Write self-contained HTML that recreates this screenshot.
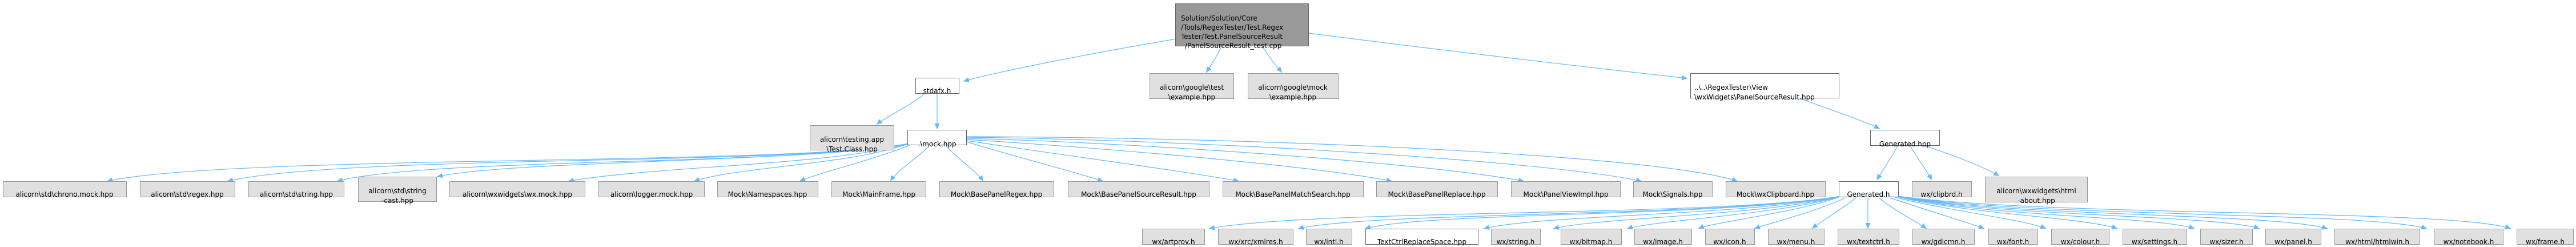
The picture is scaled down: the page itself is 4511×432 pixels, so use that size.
<!DOCTYPE html>
<html><head><meta charset="utf-8"><style>
html,body{margin:0;padding:0;background:#fff;}
svg{display:block;}
text{font-family:"DejaVu Sans","Liberation Sans",sans-serif;font-size:12px;fill:#000;}
.g{fill:#e0e0e0;stroke:#999;stroke-width:1;}
.w{fill:#fff;stroke:#666;stroke-width:1;}
.m{fill:#999;stroke:#666;stroke-width:1;}
.e{fill:none;stroke:#63b8ff;stroke-width:1.2;marker-end:url(#a);}
.c{text-anchor:middle;}
</style></head><body>
<svg width="4511" height="432" viewBox="0 0 4511 432" xmlns="http://www.w3.org/2000/svg">
<defs><marker id="a" markerUnits="userSpaceOnUse" markerWidth="11" markerHeight="9" refX="10" refY="4.5" orient="auto"><path d="M0,0 L10,4.5 L0,9 z" fill="#63b8ff"/></marker></defs>

<!-- edges -->
<path class="e" d="M2060,68 C1900,95 1750,125 1687,142"/>
<path class="e" d="M2140,80 C2130,100 2120,115 2112,127"/>
<path class="e" d="M2210,80 C2222,100 2235,115 2245,127"/>
<path class="e" d="M2292,58 C2500,85 2800,120 2955,137"/>
<path class="e" d="M1620,163 C1595,185 1550,205 1535,218"/>
<path class="e" d="M1641,163 L1641,226"/>

<path class="e" d="M1592,251 C1400,290 400,270 187,317"/>
<path class="e" d="M1592,251 C1400,290 600,270 398,317"/>
<path class="e" d="M1592,251 C1400,290 750,275 590,317"/>
<path class="e" d="M1592,251 C1400,285 900,280 765,309"/>
<path class="e" d="M1592,251 C1450,290 1150,290 995,317"/>
<path class="e" d="M1592,251 C1480,290 1300,290 1215,317"/>
<path class="e" d="M1595,253 C1530,280 1440,300 1400,317"/>
<path class="e" d="M1627,256 C1600,280 1570,300 1559,317"/>
<path class="e" d="M1657,256 C1680,280 1710,300 1722,317"/>
<path class="e" d="M1693,248 C1780,275 1880,300 1932,317"/>
<path class="e" d="M1693,246 C1850,270 2080,300 2170,317"/>
<path class="e" d="M1693,244 C1950,260 2300,290 2438,317"/>
<path class="e" d="M1693,242 C2000,250 2500,285 2669,317"/>
<path class="e" d="M1693,240 C2100,245 2700,280 2875,317"/>
<path class="e" d="M1693,239 C2200,240 2900,270 3043,317"/>

<path class="e" d="M3152,172 C3200,190 3260,210 3292,225"/>
<path class="e" d="M3323,255 C3310,280 3295,300 3287,315"/>
<path class="e" d="M3345,255 C3360,280 3375,300 3383,315"/>
<path class="e" d="M3360,252 C3420,270 3480,295 3501,308"/>

<path class="e" d="M3225,343 C3000,380 2300,365 2117,400"/>
<path class="e" d="M3225,343 C3000,380 2400,370 2273,400"/>
<path class="e" d="M3225,343 C3020,380 2500,370 2390,400"/>
<path class="e" d="M3225,343 C3050,378 2700,375 2598,400"/>
<path class="e" d="M3225,343 C3080,378 2800,380 2720,400"/>
<path class="e" d="M3225,343 C3120,375 2900,385 2849,400"/>
<path class="e" d="M3225,343 C3150,372 3000,388 2974,400"/>
<path class="e" d="M3232,346 C3180,370 3100,390 3072,400"/>
<path class="e" d="M3250,346 C3220,370 3185,390 3173,400"/>
<path class="e" d="M3271,346 L3271,400"/>
<path class="e" d="M3290,346 C3320,370 3360,390 3374,400"/>
<path class="e" d="M3310,346 C3380,370 3450,390 3475,400"/>
<path class="e" d="M3318,345 C3420,370 3550,385 3583,400"/>
<path class="e" d="M3322,344 C3450,375 3650,380 3708,400"/>
<path class="e" d="M3322,343 C3480,380 3780,378 3843,400"/>
<path class="e" d="M3322,343 C3500,380 3880,375 3957,400"/>
<path class="e" d="M3322,343 C3520,380 3980,372 4076,400"/>
<path class="e" d="M3322,343 C3550,380 4150,370 4250,400"/>
<path class="e" d="M3322,343 C3600,380 4300,365 4397,400"/>

<!-- main -->
<rect class="m" x="2058.5" y="6.5" width="233" height="74"/>
<text x="2068" y="36">Solution/Solution/Core</text>
<text x="2068" y="52">/Tools/RegexTester/Test.Regex</text>
<text x="2068" y="68">Tester/Test.PanelSourceResult</text>
<text x="2075" y="84">/PanelSourceResult_test.cpp</text>

<!-- row 2 -->
<rect class="w" x="1603.5" y="136.5" width="76" height="27"/>
<text class="c" x="1641" y="163">stdafx.h</text>
<rect class="g" x="2013.5" y="128.5" width="147" height="44"/>
<text class="c" x="2087" y="157">alicorn\google\test</text>
<text class="c" x="2087" y="174">\example.hpp</text>
<rect class="g" x="2185.5" y="128.5" width="158" height="44"/>
<text class="c" x="2264" y="157">alicorn\google\mock</text>
<text class="c" x="2264" y="174">\example.hpp</text>
<rect class="w" x="2960.5" y="128.5" width="260" height="43"/>
<text x="2967" y="157">..\..\RegexTester\View</text>
<text x="2967" y="174">\wxWidgets\PanelSourceResult.hpp</text>

<!-- row 3 -->
<rect class="g" x="1418.5" y="219.5" width="147" height="43"/>
<text class="c" x="1492" y="248">alicorn\testing.app</text>
<text class="c" x="1492" y="265">\Test.Class.hpp</text>
<rect class="w" x="1589.5" y="227.5" width="103" height="26"/>
<text class="c" x="1641" y="256">.\mock.hpp</text>
<rect class="w" x="3275.5" y="227.5" width="121" height="27"/>
<text class="c" x="3336" y="256">Generated.hpp</text>

<!-- row 4 -->
<rect class="g" x="5.5" y="317.5" width="216" height="27"/><text class="c" x="113" y="344">alicorn\std\chrono.mock.hpp</text>
<rect class="g" x="245.5" y="317.5" width="166" height="27"/><text class="c" x="328" y="344">alicorn\std\regex.hpp</text>
<rect class="g" x="435.5" y="317.5" width="167" height="27"/><text class="c" x="519" y="344">alicorn\std\string.hpp</text>
<rect class="g" x="627.5" y="309.5" width="137" height="43"/><text class="c" x="696" y="338">alicorn\std\string</text><text class="c" x="696" y="355">-cast.hpp</text>
<rect class="g" x="787.5" y="317.5" width="237" height="27"/><text class="c" x="906" y="344">alicorn\wxwidgets\wx.mock.hpp</text>
<rect class="g" x="1048.5" y="317.5" width="185" height="27"/><text class="c" x="1141" y="344">alicorn\logger.mock.hpp</text>
<rect class="g" x="1256.5" y="317.5" width="176" height="27"/><text class="c" x="1344" y="344">Mock\Namespaces.hpp</text>
<rect class="g" x="1456.5" y="317.5" width="165" height="27"/><text class="c" x="1539" y="344">Mock\MainFrame.hpp</text>
<rect class="g" x="1645.5" y="317.5" width="200" height="27"/><text class="c" x="1745" y="344">Mock\BasePanelRegex.hpp</text>
<rect class="g" x="1870.5" y="317.5" width="247" height="27"/><text class="c" x="1994" y="344">Mock\BasePanelSourceResult.hpp</text>
<rect class="g" x="2141.5" y="317.5" width="246" height="27"/><text class="c" x="2264" y="344">Mock\BasePanelMatchSearch.hpp</text>
<rect class="g" x="2410.5" y="317.5" width="212" height="27"/><text class="c" x="2516" y="344">Mock\BasePanelReplace.hpp</text>
<rect class="g" x="2646.5" y="317.5" width="191" height="27"/><text class="c" x="2742" y="344">Mock\PanelViewImpl.hpp</text>
<rect class="g" x="2860.5" y="317.5" width="138" height="27"/><text class="c" x="2929" y="344">Mock\Signals.hpp</text>
<rect class="g" x="3022.5" y="317.5" width="174" height="27"/><text class="c" x="3109" y="344">Mock\wxClipboard.hpp</text>
<rect class="w" x="3220.5" y="317.5" width="104" height="27"/><text class="c" x="3272" y="344">Generated.h</text>
<rect class="g" x="3348.5" y="317.5" width="104" height="27"/><text class="c" x="3400" y="344">wx/clipbrd.h</text>
<rect class="g" x="3476.5" y="309.5" width="179" height="44"/><text class="c" x="3566" y="338">alicorn\wxwidgets\html</text><text class="c" x="3566" y="355">-about.hpp</text>

<!-- row 5 -->
<rect class="g" x="2000.5" y="400.5" width="109" height="27"/><text class="c" x="2055" y="427">wx/artprov.h</text>
<rect class="g" x="2133.5" y="400.5" width="131" height="27"/><text class="c" x="2199" y="427">wx/xrc/xmlres.h</text>
<rect class="g" x="2287.5" y="400.5" width="80" height="27"/><text class="c" x="2327" y="427">wx/intl.h</text>
<rect class="w" x="2391.5" y="400.5" width="197" height="27"/><text class="c" x="2490" y="427">TextCtrlReplaceSpace.hpp</text>
<rect class="g" x="2611.5" y="400.5" width="86" height="27"/><text class="c" x="2654" y="427">wx/string.h</text>
<rect class="g" x="2733.5" y="400.5" width="106" height="27"/><text class="c" x="2786" y="427">wx/bitmap.h</text>
<rect class="g" x="2862.5" y="400.5" width="100" height="27"/><text class="c" x="2912" y="427">wx/image.h</text>
<rect class="g" x="2986.5" y="400.5" width="86" height="27"/><text class="c" x="3029" y="427">wx/icon.h</text>
<rect class="g" x="3096.5" y="400.5" width="98" height="27"/><text class="c" x="3145" y="427">wx/menu.h</text>
<rect class="g" x="3218.5" y="400.5" width="107" height="27"/><text class="c" x="3272" y="427">wx/textctrl.h</text>
<rect class="g" x="3349.5" y="400.5" width="108" height="27"/><text class="c" x="3403" y="427">wx/gdicmn.h</text>
<rect class="g" x="3482.5" y="400.5" width="86" height="27"/><text class="c" x="3525" y="427">wx/font.h</text>
<rect class="g" x="3592.5" y="400.5" width="101" height="27"/><text class="c" x="3643" y="427">wx/colour.h</text>
<rect class="g" x="3717.5" y="400.5" width="112" height="27"/><text class="c" x="3773" y="427">wx/settings.h</text>
<rect class="g" x="3853.5" y="400.5" width="91" height="27"/><text class="c" x="3899" y="427">wx/sizer.h</text>
<rect class="g" x="3967.5" y="400.5" width="97" height="27"/><text class="c" x="4016" y="427">wx/panel.h</text>
<rect class="g" x="4088.5" y="400.5" width="149" height="27"/><text class="c" x="4163" y="427">wx/html/htmlwin.h</text>
<rect class="g" x="4262.5" y="400.5" width="121" height="27"/><text class="c" x="4323" y="427">wx/notebook.h</text>
<rect class="g" x="4407.5" y="400.5" width="99" height="27"/><text class="c" x="4457" y="427">wx/frame.h</text>
</svg>
</body></html>
